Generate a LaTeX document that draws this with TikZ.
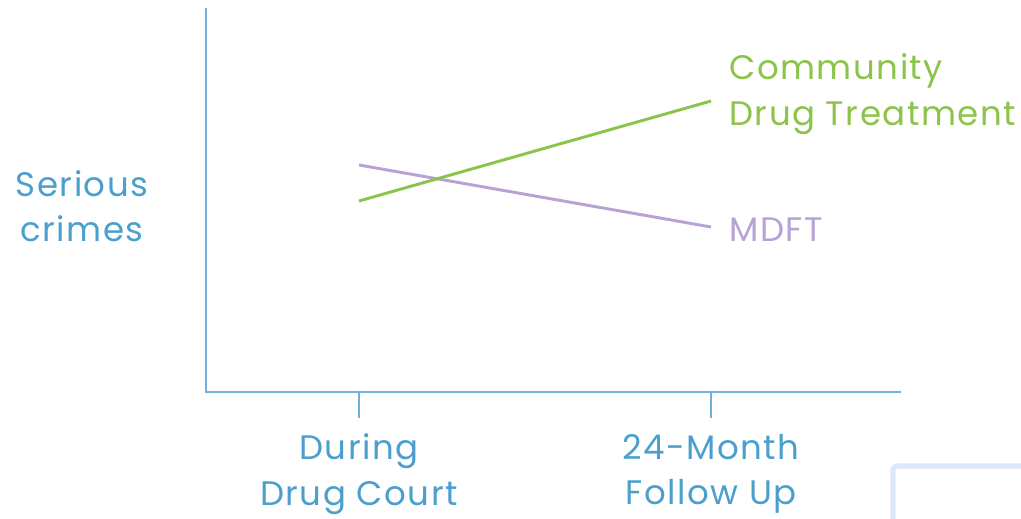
\documentclass[tikz,border=0pt]{standalone}
\usepackage{fontspec}
\setmainfont{Poppins}[LetterSpace=4.5]
\definecolor{axisblue}{HTML}{74AEDA}
\definecolor{txtblue}{HTML}{4A9FCD}
\definecolor{cgreen}{HTML}{8CC34A}
\definecolor{cpurple}{HTML}{B7A2D6}
\definecolor{boxblue}{HTML}{DCE8FB}
\begin{document}
\begin{tikzpicture}[x=0.75pt,y=-0.75pt,
  axis/.style={draw=axisblue,line width=2.2pt},
  lbl/.style={font=\fontsize{25.5}{34}\selectfont,align=center,inner sep=0pt},
  series/.style={line width=2.2pt}]
\useasboundingbox (0,0) rectangle (1021,518);
\coordinate (top) at (206,8);
\coordinate (origin) at (206,392);
\coordinate (xend) at (901,392);
\coordinate (t1) at (359,392);
\coordinate (t1b) at (359,418);
\coordinate (t2) at (711,392);
\coordinate (t2b) at (711,418);
\draw[axis] (top) -- (origin) -- (xend);
\draw[axis] (t1) -- (t1b);
\draw[axis] (t2) -- (t2b);
\coordinate (g1) at (359,201);
\coordinate (g2) at (711,101);
\coordinate (p1) at (359,165);
\coordinate (p2) at (711,227);
\draw[series,cpurple] (p1) -- (p2);
\draw[series,cgreen] (g1) -- (g2);
\node[lbl,text=txtblue] (ylab) at (82,206) {Serious\\crimes};
\node[lbl,text=txtblue] (x1) at (359,474) {During\\Drug Court};
\node[lbl,text=txtblue] (x2) at (711,474) {24-Month\\Follow Up};
\node[lbl,text=cgreen,align=left,anchor=west] (cdt) at (729,94) {Community\\Drug Treatment};
\node[lbl,text=cpurple,anchor=west] (mdft) at (729,230) {MDFT};
\draw[boxblue,line width=3.8pt,rounded corners=3pt] (893,530) -- (893,466) -- (1030,466);
\end{tikzpicture}
\end{document}
